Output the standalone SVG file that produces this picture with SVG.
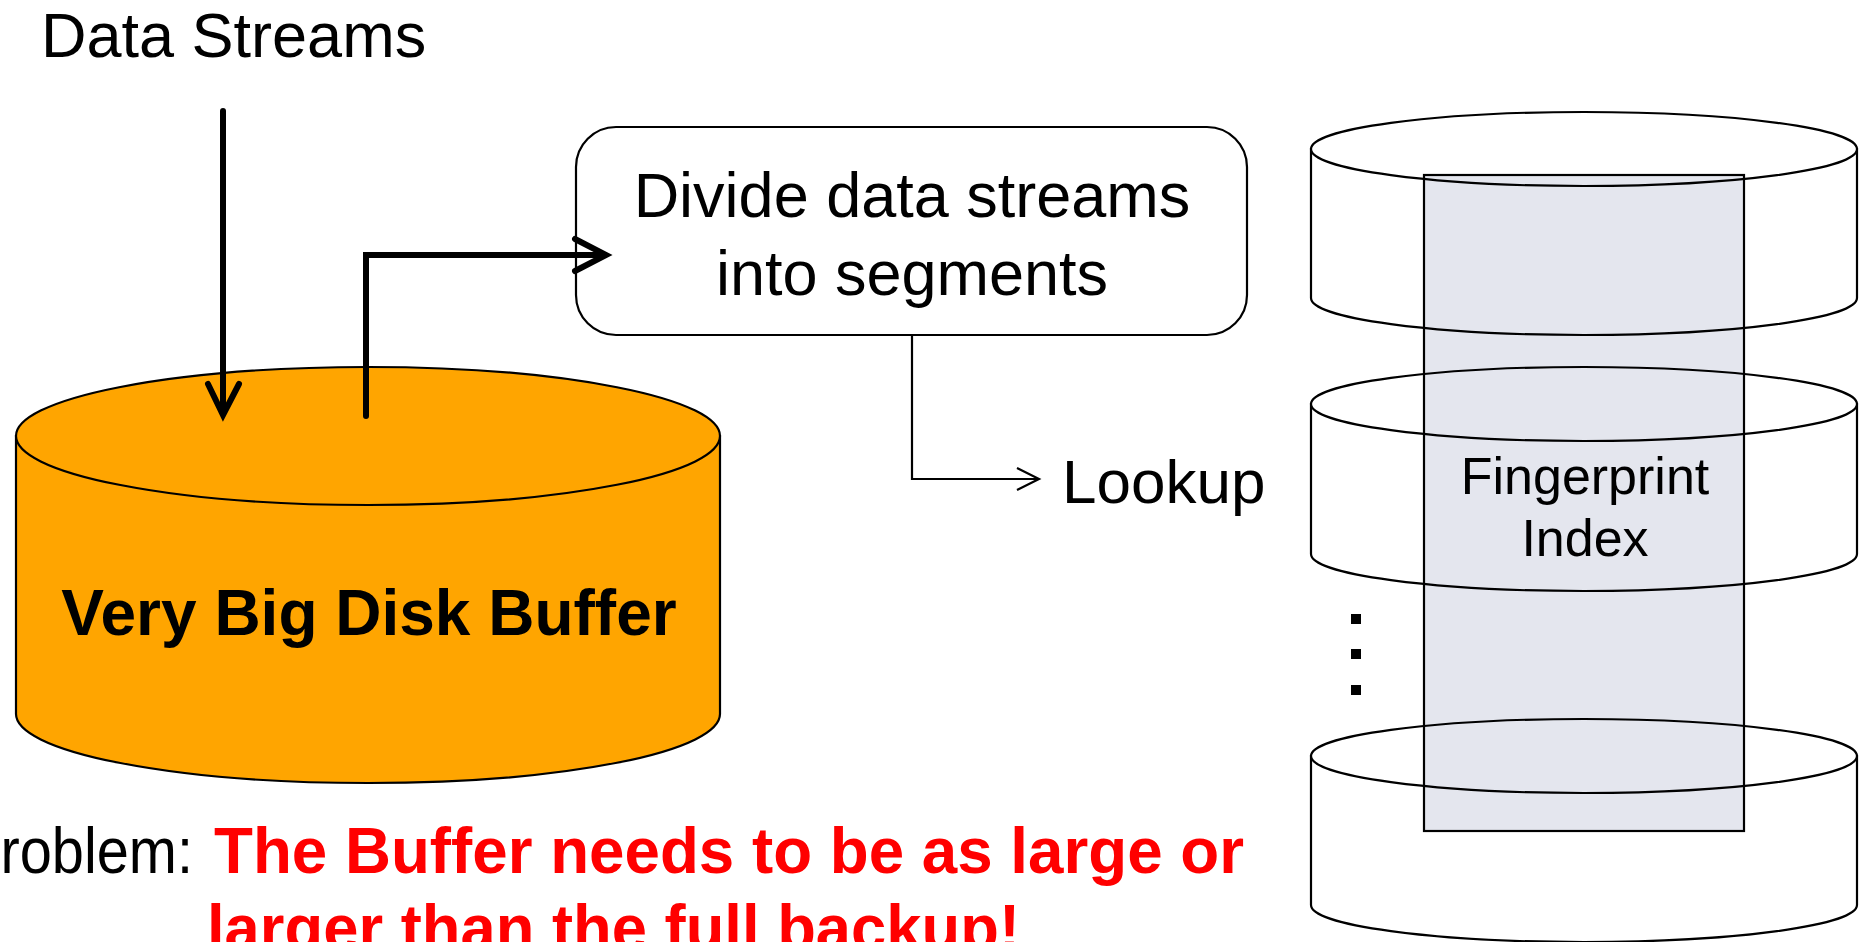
<svg xmlns="http://www.w3.org/2000/svg" width="1863" height="942" viewBox="0 0 1863 942">
<style>
text{font-family:"Liberation Sans",Arial,sans-serif;}
.t63{font-size:63px;fill:#000;}
.bold{font-weight:bold;}
.thick{fill:none;stroke:#000;stroke-width:6;stroke-linecap:round;}
.head{fill:none;stroke:#000;stroke-width:6;stroke-linecap:round;stroke-linejoin:miter;}
.thin{fill:none;stroke:#000;stroke-width:2.2;}
.cyl{fill:#fff;stroke:#000;stroke-width:2.2;}
</style>
<rect width="1863" height="942" fill="#fff"/>

<g id="data-streams-label">
<text class="t63" x="41" y="57">Data Streams</text>
</g>

<g id="disk-buffer">
<path d="M16,436 L16,714 A352,69 0 0 0 720,714 L720,436 Z" fill="#FFA500" stroke="#000" stroke-width="2.2"/>
<ellipse cx="368" cy="436" rx="352" ry="69" fill="#FFA500" stroke="#000" stroke-width="2.2"/>
<text class="bold" x="369" y="635" font-size="64" text-anchor="middle">Very Big Disk Buffer</text>
</g>

<g id="divide-box">
<rect x="576" y="127" width="671" height="208" rx="40" ry="40" fill="#fff" stroke="#000" stroke-width="2.2"/>
<text class="t63" x="912" y="217" text-anchor="middle">Divide data streams</text>
<text class="t63" x="912" y="295" text-anchor="middle">into segments</text>
</g>

<g id="lookup-label">
<text x="1062" y="503" font-size="62">Lookup</text>
</g>

<g id="cylinder-1">
<path class="cyl" d="M1311,149 L1311,298 A273,37 0 0 0 1857,298 L1857,149 Z"/>
<ellipse class="cyl" cx="1584" cy="149" rx="273" ry="37"/>
</g>
<g id="cylinder-2">
<path class="cyl" d="M1311,404 L1311,554 A273,37 0 0 0 1857,554 L1857,404 Z"/>
<ellipse class="cyl" cx="1584" cy="404" rx="273" ry="37"/>
</g>
<g id="cylinder-3">
<path class="cyl" d="M1311,756 L1311,905 A273,37 0 0 0 1857,905 L1857,756 Z"/>
<ellipse class="cyl" cx="1584" cy="756" rx="273" ry="37"/>
</g>

<g id="ellipsis-dots" fill="#000">
<rect x="1351" y="614" width="10" height="10"/>
<rect x="1351" y="649" width="10" height="10"/>
<rect x="1351" y="685" width="10" height="10"/>
</g>

<g id="fingerprint-index">
<rect x="1424" y="175" width="320" height="656" fill="#E4E6EE" style="mix-blend-mode:multiply"/>
<rect x="1424" y="175" width="320" height="656" fill="none" stroke="#000" stroke-width="2.2"/>
<text x="1585" y="494" font-size="52" text-anchor="middle">Fingerprint</text>
<text x="1585" y="556" font-size="52" text-anchor="middle">Index</text>
</g>

<g id="problem-text">
<text x="-38" y="873" font-size="64" textLength="231" lengthAdjust="spacingAndGlyphs">Problem:</text>
<text class="bold" x="214" y="873" font-size="64" fill="#FF0000" textLength="1030" lengthAdjust="spacingAndGlyphs">The Buffer needs to be as large or</text>
<text class="bold" x="207" y="950" font-size="64" fill="#FF0000" textLength="813" lengthAdjust="spacingAndGlyphs">larger than the full backup!</text>
</g>

<g id="connectors">
<path class="thick" d="M223,111 L223,412"/>
<path class="head" d="M208,384 L223,415 L239,384"/>
<path class="thick" d="M366,416 L366,255 L603,255"/>
<path class="head" d="M575,239 L606,255 L575,271"/>
<path class="thin" d="M912,335 L912,479 L1037,479"/>
<path class="thin" d="M1017,468 L1039,479 L1017,490" stroke-width="2.5"/>
</g>
</svg>
